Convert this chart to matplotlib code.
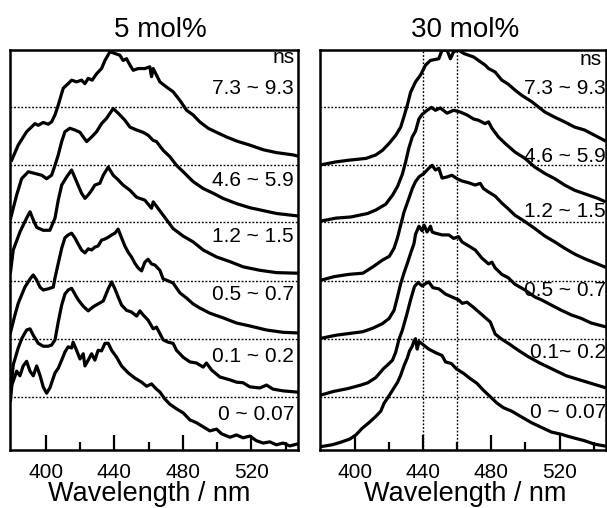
import matplotlib
matplotlib.use('Agg')
import matplotlib.pyplot as plt

plt.rcParams['font.family'] = ['Liberation Sans', 'DejaVu Sans']

# ---------------- data (wavelength in nm, relative intensity) ----------------
panel_titles = ['5 mol%', '30 mol%']
labels_5 = ['7.3 ~ 9.3', '4.6 ~ 5.9', '1.2 ~ 1.5', '0.5 ~ 0.7', '0.1 ~ 0.2', '0 ~ 0.07']
labels_30 = ['7.3 ~ 9.3', '4.6 ~ 5.9', '1.2 ~ 1.5', '0.5 ~ 0.7', '0.1~ 0.2', '0 ~ 0.07']
offsets = [5, 4, 3, 2, 1, 0]
ref_levels = [5.91, 4.91, 3.93, 2.92, 1.91, 0.91]
ref_wavelengths_30 = [440, 460]
major_ticks = [400, 440, 480, 520]
minor_ticks = [420, 460, 500, 540]

# 5 mol%
wl_5_a = [380.0,383.8,388.7,393.6,395.5,398.4,401.3,403.3,405.3,407.2,410.1,413.0,415.0,417.9,420.8,422.8,424.7,427.0,429.6,432.5,434.5,437.4,440.3,443.2,445.1,447.1,449.1,451.0,453.9,457.8,460.7,461.7,462.7,466.6,470.5,474.3,478.3,482.2,486.0,489.9,494.8,499.7,505.5,511.4,519.1,526.9,534.7,544.5,547.2]
in_5_a = [0.00,0.26,0.49,0.63,0.60,0.65,0.62,0.66,0.78,0.95,1.24,1.32,1.38,1.35,1.38,1.32,1.41,1.38,1.49,1.58,1.72,1.87,1.84,1.81,1.72,1.75,1.64,1.55,1.58,1.58,1.61,1.44,1.58,1.35,1.26,1.18,1.03,0.86,0.78,0.66,0.55,0.48,0.40,0.33,0.26,0.18,0.13,0.09,0.07]

wl_5_b = [379.4,382.9,385.8,389.7,393.6,397.5,400.4,403.3,405.3,407.2,409.2,411.1,414.0,416.9,419.9,421.8,423.8,426.7,429.6,432.5,435.4,439.3,442.2,446.1,449.1,453.0,456.8,459.7,462.7,464.6,468.5,472.4,476.3,480.2,486.0,491.9,497.7,503.5,511.4,519.1,526.9,534.7,546.4]
in_5_b = [0.00,0.40,0.68,0.80,0.77,0.74,0.68,0.74,0.91,1.09,1.32,1.49,1.55,1.52,1.48,1.40,1.32,1.40,1.49,1.63,1.72,1.89,1.81,1.69,1.57,1.52,1.48,1.43,1.34,1.32,1.17,1.06,0.91,0.80,0.63,0.51,0.43,0.34,0.25,0.18,0.13,0.08,0.04]

wl_5_c = [379.3,380.9,384.8,388.7,390.7,392.6,394.6,398.4,402.3,405.3,407.2,409.2,412.1,415.0,417.9,420.8,422.8,424.7,426.7,428.6,431.5,433.5,436.4,439.3,442.2,445.1,449.1,453.0,457.8,461.7,462.7,468.5,474.3,480.2,486.0,491.9,499.7,507.5,515.2,525.0,534.7,546.4]
in_5_c = [0.07,0.45,0.76,1.00,1.11,0.97,0.84,0.79,0.79,1.00,1.31,1.57,1.71,1.83,1.63,1.43,1.34,1.40,1.48,1.57,1.60,1.74,1.88,1.74,1.66,1.57,1.48,1.36,1.31,1.17,1.28,1.05,0.82,0.69,0.59,0.45,0.33,0.25,0.16,0.10,0.06,0.05]

wl_5_d = [379.3,381.9,383.8,387.7,390.7,392.6,394.6,396.5,398.4,401.3,404.3,405.3,407.2,409.2,411.1,413.0,415.0,416.9,418.9,420.8,422.8,424.7,426.7,428.6,430.5,432.5,434.5,436.4,438.4,440.3,442.2,444.2,446.1,448.1,450.0,452.0,453.9,455.9,457.8,459.7,461.7,463.7,466.6,468.5,470.5,474.3,478.3,482.2,486.0,489.9,495.8,503.5,511.4,519.1,528.9,538.6,546.4]
in_5_d = [0.03,0.33,0.53,0.81,0.95,1.02,0.93,0.81,0.76,0.78,0.81,0.97,1.22,1.48,1.66,1.71,1.74,1.66,1.55,1.45,1.40,1.47,1.45,1.50,1.52,1.62,1.64,1.67,1.71,1.74,1.81,1.66,1.52,1.41,1.33,1.22,1.14,1.09,1.24,1.29,1.21,1.19,1.10,0.95,0.93,0.88,0.71,0.62,0.52,0.45,0.36,0.28,0.19,0.14,0.07,0.03,0.02]

wl_5_e = [379.3,380.9,383.8,386.0,388.7,390.7,392.6,395.5,398.4,401.3,403.3,405.3,407.2,409.2,411.1,413.0,415.0,416.9,418.9,421.8,424.7,427.6,430.5,433.5,436.4,438.4,440.3,442.2,444.2,447.1,450.0,453.0,454.9,456.8,459.7,462.7,464.6,468.5,471.4,474.3,476.3,480.2,484.1,488.0,491.9,493.8,496.8,501.6,507.5,511.4,515.2,519.1,525.0,528.9,532.7,538.6,546.4]
in_5_e = [0.00,0.47,0.76,0.93,1.07,1.09,0.98,0.84,0.79,0.79,0.81,0.90,1.21,1.50,1.69,1.76,1.79,1.69,1.59,1.48,1.40,1.47,1.52,1.57,1.78,1.90,1.78,1.64,1.50,1.41,1.38,1.31,1.40,1.33,1.24,1.09,1.12,0.90,0.86,0.84,0.72,0.60,0.52,0.50,0.43,0.50,0.38,0.26,0.21,0.17,0.16,0.09,0.07,0.12,0.05,0.02,0.00]

wl_5_f = [379.3,380.1,382.9,384.8,386.7,388.7,390.7,392.6,394.6,396.5,398.4,400.4,402.3,405.3,407.2,409.2,411.1,413.0,415.0,415.9,417.9,419.9,421.8,422.8,424.7,426.7,428.6,430.5,432.5,434.5,436.4,438.4,441.3,444.2,448.1,452.0,455.9,458.8,461.7,464.6,466.6,469.5,472.4,476.3,480.2,484.1,488.0,491.9,495.8,499.7,502.6,507.5,511.4,515.2,519.1,523.0,526.9,530.8,534.7,538.6,542.5,546.4]
in_5_f = [0.86,1.12,1.36,1.28,1.45,1.53,1.36,1.28,1.45,1.29,1.09,0.98,1.07,1.33,1.41,1.55,1.69,1.78,1.76,1.86,1.72,1.57,1.66,1.45,1.55,1.66,1.55,1.72,1.71,1.84,1.84,1.72,1.60,1.45,1.33,1.24,1.17,1.10,1.14,1.05,1.00,0.88,0.79,0.71,0.64,0.52,0.47,0.40,0.33,0.36,0.28,0.22,0.26,0.21,0.24,0.16,0.12,0.14,0.09,0.12,0.07,0.10]

# 30 mol%
wl_30_a = [380.0,388.7,396.5,406.3,412.1,416.0,419.9,423.8,426.7,428.6,430.6,432.5,435.4,438.4,441.3,444.2,449.1,451.0,453.9,455.9,457.8,460.7,463.7,466.6,469.5,472.4,476.3,478.3,482.2,486.1,489.9,493.8,497.7,503.6,507.5,511.4,517.2,523.0,528.9,534.7,538.6,542.5,546.4]
in_30_a = [-0.08,-0.03,0.00,0.03,0.09,0.17,0.29,0.43,0.57,0.75,0.95,1.17,1.35,1.47,1.64,1.72,1.75,1.90,1.90,1.75,1.87,1.90,1.84,1.81,1.78,1.72,1.64,1.58,1.52,1.38,1.31,1.21,1.12,1.01,0.92,0.83,0.74,0.66,0.57,0.52,0.46,0.40,0.34]

wl_30_b = [380.0,388.7,397.5,407.3,412.1,417.9,422.0,424.9,427.7,429.6,431.5,433.5,435.4,437.4,439.3,442.2,444.8,447.1,450.0,453.9,457.8,461.7,465.6,469.5,472.2,476.3,478.3,480.3,484.1,488.0,493.8,499.7,505.5,511.4,517.2,523.0,528.9,536.7,542.5,546.4]
in_30_b = [-0.05,0.00,0.02,0.08,0.14,0.24,0.40,0.55,0.76,0.97,1.21,1.40,1.50,1.71,1.79,1.86,1.91,1.86,1.90,1.81,1.86,1.83,1.78,1.71,1.69,1.63,1.66,1.55,1.40,1.29,1.14,1.03,0.88,0.77,0.68,0.57,0.48,0.40,0.34,0.29]

wl_30_c = [380.0,387.5,396.3,404.5,410.4,416.2,420.0,422.8,424.8,426.7,428.6,431.5,433.5,435.4,437.4,440.3,443.2,445.2,447.1,449.1,451.0,453.9,456.8,459.8,462.7,466.6,470.5,473.4,475.3,478.3,482.2,486.1,489.9,493.8,499.7,505.5,511.4,517.2,523.0,528.9,534.7,540.6,546.4]
in_30_c = [-0.07,-0.01,0.03,0.05,0.16,0.28,0.34,0.48,0.66,0.88,1.10,1.34,1.51,1.63,1.71,1.77,1.86,1.91,1.83,1.86,1.69,1.71,1.74,1.68,1.64,1.61,1.57,1.60,1.51,1.45,1.38,1.26,1.16,1.05,0.94,0.82,0.69,0.59,0.48,0.38,0.30,0.23,0.16]

wl_30_d = [380.4,388.7,396.5,404.4,410.2,416.0,419.9,422.8,424.8,426.7,428.6,430.6,432.5,434.5,435.4,437.4,439.3,440.4,442.2,444.2,445.2,447.1,451.0,454.9,457.8,460.7,462.7,466.6,470.5,474.4,478.3,480.3,482.2,486.1,489.9,493.8,499.7,505.5,509.4,515.2,521.1,526.9,532.8,538.6,546.4]
in_30_d = [-0.07,-0.02,0.01,0.04,0.10,0.18,0.27,0.41,0.64,0.87,1.05,1.22,1.39,1.56,1.72,1.86,1.78,1.88,1.76,1.86,1.76,1.74,1.71,1.71,1.65,1.68,1.59,1.52,1.45,1.31,1.21,1.24,1.14,1.03,0.97,0.86,0.76,0.64,0.59,0.50,0.41,0.33,0.27,0.19,0.13]

wl_30_e = [380.1,387.2,395.7,403.3,407.4,412.1,416.5,419.1,421.9,423.8,425.6,427.7,430.2,432.5,434.8,436.9,439.3,441.3,443.2,445.6,449.1,453.0,456.8,460.7,462.9,465.6,469.5,473.4,477.3,479.3,482.2,486.1,489.9,495.8,501.6,508.4,516.2,524.0,531.8,539.6,546.4]
in_30_e = [-0.05,0.01,0.06,0.12,0.16,0.25,0.40,0.47,0.55,0.69,0.90,1.07,1.33,1.59,1.82,1.89,1.83,1.87,1.90,1.80,1.78,1.69,1.64,1.59,1.53,1.55,1.46,1.36,1.26,1.21,1.00,0.91,0.84,0.72,0.61,0.50,0.39,0.28,0.21,0.14,0.08]

wl_30_f = [380.2,386.4,391.1,396.9,400.4,403.9,408.0,412.1,415.0,417.0,419.1,422.3,424.9,426.7,428.6,430.6,431.9,433.5,434.5,435.4,436.4,437.4,439.3,443.2,447.1,451.0,453.0,456.5,459.4,463.7,467.6,471.5,475.3,479.3,483.2,487.0,491.9,497.7,503.6,509.4,515.2,521.1,526.9,534.7,540.6,546.4]
in_30_f = [0.06,0.09,0.13,0.19,0.26,0.37,0.47,0.58,0.67,0.81,0.90,1.05,1.17,1.29,1.45,1.59,1.71,1.79,1.88,1.92,1.74,1.87,1.83,1.74,1.68,1.63,1.52,1.49,1.40,1.32,1.23,1.15,1.03,0.92,0.81,0.73,0.67,0.57,0.47,0.39,0.31,0.27,0.22,0.16,0.10,0.07]

series_5 = [(wl_5_a, in_5_a), (wl_5_b, in_5_b), (wl_5_c, in_5_c),
            (wl_5_d, in_5_d), (wl_5_e, in_5_e), (wl_5_f, in_5_f)]
series_30 = [(wl_30_a, in_30_a), (wl_30_b, in_30_b), (wl_30_c, in_30_c),
             (wl_30_d, in_30_d), (wl_30_e, in_30_e), (wl_30_f, in_30_f)]

# ---------------- layout ----------------
W, H = 607, 508
fig = plt.figure(figsize=(W / 100, H / 100), dpi=100)


def px_axes(x0, x1, y0, y1):
    return [x0 / W, (H - y1) / H, (x1 - x0) / W, (y1 - y0) / H]


axL = fig.add_axes(px_axes(10, 298, 50, 450))
axR = fig.add_axes(px_axes(319.5, 606, 50, 450))

AX_TOP, AX_BOT = 50, 450


def frac_y(py):
    return (AX_BOT - py) / (AX_BOT - AX_TOP)


panels = [
    dict(ax=axL, series=series_5, labels=labels_5, title=panel_titles[0],
         title_x=160, xlabel_x=149, lab_x=0.986, ns_x=0.99, ns_y=63,
         lab_y=[94.5, 186.5, 242.5, 300.5, 361.5, 419.5], vlines=[]),
    dict(ax=axR, series=series_30, labels=labels_30, title=panel_titles[1],
         title_x=465, xlabel_x=465, lab_x=1.0, ns_x=0.985, ns_y=65,
         lab_y=[94.5, 161.5, 217.5, 296.5, 358.5, 418.5], vlines=ref_wavelengths_30),
]

dot = (0, (1.3, 1.3))
for p in panels:
    ax = p['ax']
    for lev in ref_levels:
        ax.axhline(lev, color='black', lw=1.0, ls=dot, zorder=1)
    for v in p['vlines']:
        ax.axvline(v, color='black', lw=1.0, ls=dot, zorder=1)
    for (wl, inten), off in zip(p['series'], offsets):
        ax.plot(wl, [v + off for v in inten], color='black', lw=2.3,
                solid_joinstyle='round', zorder=3)
    ax.set_xlim(379.0, 547.3)
    ax.set_ylim(0, 6.9)
    ax.set_yticks([])
    ax.set_xticks(major_ticks)
    ax.set_xticks(minor_ticks, minor=True)
    ax.tick_params(axis='x', which='major', direction='in', length=11, width=1.6,
                   labelsize=15, pad=9, top=False)
    ax.tick_params(axis='x', which='minor', direction='in', length=6, width=1.6,
                   top=False)
    for s in ax.spines.values():
        s.set_linewidth(1.8)
    ax.text(p['ns_x'], frac_y(p['ns_y']), 'ns', transform=ax.transAxes,
            ha='right', va='baseline', fontsize=15)
    for lab, ly in zip(p['labels'], p['lab_y']):
        ax.text(p['lab_x'], frac_y(ly), lab, transform=ax.transAxes,
                ha='right', va='baseline', fontsize=15, zorder=4)
    fig.text(p['title_x'] / W, (H - 37) / H, p['title'], ha='center',
             va='baseline', fontsize=20)
    fig.text(p['xlabel_x'] / W, (H - 501) / H, 'Wavelength / nm', ha='center',
             va='baseline', fontsize=19.5)

fig.savefig('out.png', dpi=100)
